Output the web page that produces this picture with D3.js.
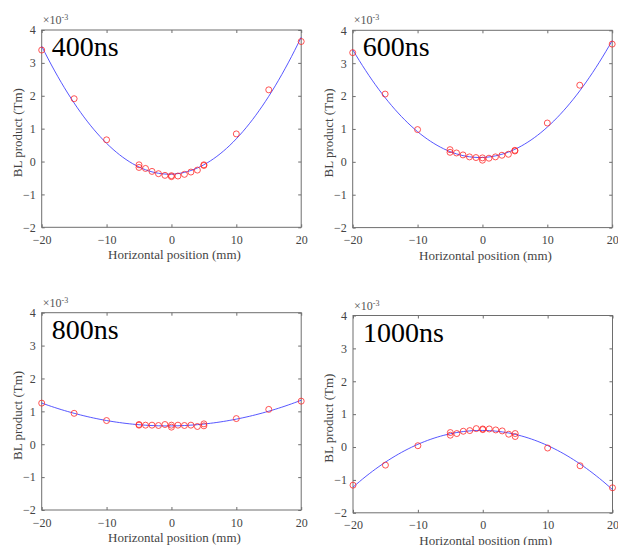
<!DOCTYPE html>
<html>
<head>
<meta charset="utf-8">
<script src="https://cdn.jsdelivr.net/npm/d3@7"></script>
<style>
body { margin: 0; background: #fff; }
svg text { font-family: "Liberation Serif", "Tinos", "Times New Roman", Times, "DejaVu Serif", serif; }
</style>
</head>
<body>
<svg id="chart" width="618" height="545"></svg>
<script>
// measured horizontal positions (mm), same scan for each delay
var xs = [-20, -15, -10, -5, -5, -4, -3, -2, -1, 0, 0, 1, 2, 3, 4, 5, 5, 10, 15, 20];

// BL product, units of 1e-3 Tm
var y400  = [3.39, 1.91, 0.66, -0.10, -0.18, -0.21, -0.30, -0.37, -0.42, -0.43, -0.46, -0.44, -0.39, -0.32, -0.26, -0.10, -0.12, 0.84, 2.18, 3.65];
var y600  = [3.32, 2.06, 0.98, 0.37, 0.29, 0.27, 0.21, 0.15, 0.13, 0.12, 0.05, 0.11, 0.15, 0.20, 0.23, 0.35, 0.33, 1.18, 2.33, 3.58];
var y800  = [1.25, 0.94, 0.72, 0.60, 0.58, 0.58, 0.58, 0.57, 0.60, 0.58, 0.52, 0.58, 0.57, 0.58, 0.54, 0.62, 0.56, 0.78, 1.06, 1.31];
var y1000 = [-1.16, -0.55, 0.04, 0.44, 0.36, 0.41, 0.48, 0.50, 0.56, 0.55, 0.53, 0.55, 0.52, 0.49, 0.39, 0.41, 0.32, -0.03, -0.57, -1.24];

var labels = ["400ns", "600ns", "800ns", "1000ns"];
var series = [y400, y600, y800, y1000];

var xTicks = [-20, -10, 0, 10, 20];
var yTicks = [-2, -1, 0, 1, 2, 3, 4];

var serif = "'Liberation Serif', 'Times New Roman', Times, 'DejaVu Serif', serif";

// plot box of each panel (left, top)
var boxes = [
    {l: 41.7, t: 30},
    {l: 352.7, t: 30.3},
    {l: 41.7, t: 312.7},
    {l: 353, t: 315.5}
];
var W = 259.5, H = 197.3;

var svg = d3.select("#chart");

// least squares quadratic fit, returns [c, b, a]
function polyfit2(x, y){
    var s = [0,0,0,0,0], t = [0,0,0];
    for (var i=0; i<x.length; i++){
        var p = 1;
        for (var k=0; k<5; k++){ s[k] += p; if (k<3) t[k] += p*y[i]; p *= x[i]; }
    }
    var m = [[s[0],s[1],s[2],t[0]],[s[1],s[2],s[3],t[1]],[s[2],s[3],s[4],t[2]]];
    for (var c=0; c<3; c++){
        for (var r=c+1; r<3; r++){
            var f = m[r][c]/m[c][c];
            for (var j=c; j<4; j++) m[r][j] -= f*m[c][j];
        }
    }
    var sol = [0,0,0];
    for (var r2=2; r2>=0; r2--){
        var v = m[r2][3];
        for (var j2=r2+1; j2<3; j2++) v -= m[r2][j2]*sol[j2];
        sol[r2] = v/m[r2][r2];
    }
    return sol;
}

function draw_panel(i){
    var b = boxes[i];
    var ys = series[i];
    var g = svg.append("g").attr("transform", "translate(" + b.l + "," + b.t + ")")
        .attr("font-family", serif);

    var x = d3.scaleLinear().domain([-20, 20]).range([0, W]);
    var y = d3.scaleLinear().domain([-2, 4]).range([H, 0]);

    // box
    g.append("rect").attr("width", W).attr("height", H)
        .attr("fill", "none").attr("stroke", "#6e6e6e").attr("stroke-width", 1);

    // axes with inward ticks, MATLAB style
    var axColor = "#6e6e6e";
    var bottom = g.append("g").attr("transform", "translate(0," + H + ")")
        .call(d3.axisBottom(x).tickValues(xTicks).tickSize(-3).tickPadding(8).tickFormat(d3.format("d")));
    var left = g.append("g")
        .call(d3.axisLeft(y).tickValues(yTicks).tickSize(-3).tickPadding(6).tickFormat(d3.format("d")));
    var top = g.append("g")
        .call(d3.axisTop(x).tickValues(xTicks).tickSize(-3).tickFormat(""));
    var right = g.append("g").attr("transform", "translate(" + W + ",0)")
        .call(d3.axisRight(y).tickValues(yTicks).tickSize(-3).tickFormat(""));
    [bottom, left, top, right].forEach(function(a){
        a.attr("font-family", serif).attr("font-size", 12);
        a.select(".domain").remove();
        a.selectAll("line").attr("stroke", axColor);
        a.selectAll("text").attr("fill", "#444");
    });

    // exponent label
    var ex = g.append("text").attr("x", 1).attr("y", -6)
        .attr("fill", "#555").attr("font-size", 12);
    ex.append("tspan").text("\u00d710");
    ex.append("tspan").attr("dy", -4).attr("font-size", 8).text("-3");

    // fitted curve
    var cf = polyfit2(xs, ys);
    var grid = d3.range(-20, 20.01, 0.5);
    var line = d3.line()
        .x(function(d){ return x(d); })
        .y(function(d){ return y(cf[0] + cf[1]*d + cf[2]*d*d); });
    g.append("path").datum(grid).attr("d", line)
        .attr("fill", "none").attr("stroke", "#3a3aff").attr("stroke-width", 1).attr("opacity", 0.85);

    // measured points
    g.selectAll("circle.pt").data(ys).enter().append("circle")
        .attr("class", "pt")
        .attr("cx", function(d, k){ return x(xs[k]); })
        .attr("cy", function(d){ return y(d); })
        .attr("r", 3)
        .attr("fill", "none").attr("stroke", "#ff2020").attr("stroke-width", 0.9).attr("opacity", 0.85);

    // panel label
    g.append("text").attr("x", 10).attr("y", 26)
        .attr("fill", "#000").attr("font-size", 28).text(labels[i]);

    // axis titles
    g.append("text").attr("x", W/2 + 3).attr("y", H + 32)
        .attr("text-anchor", "middle").attr("fill", "#444").attr("font-size", 13)
        .text("Horizontal position (mm)");
    g.append("text")
        .attr("transform", "translate(-20," + (H/2 + 4) + ") rotate(-90)")
        .attr("text-anchor", "middle").attr("fill", "#444").attr("font-size", 13)
        .text("BL product (Tm)");
}

for (var i=0; i<4; i++){
    draw_panel(i);
}
</script>
</body>
</html>
